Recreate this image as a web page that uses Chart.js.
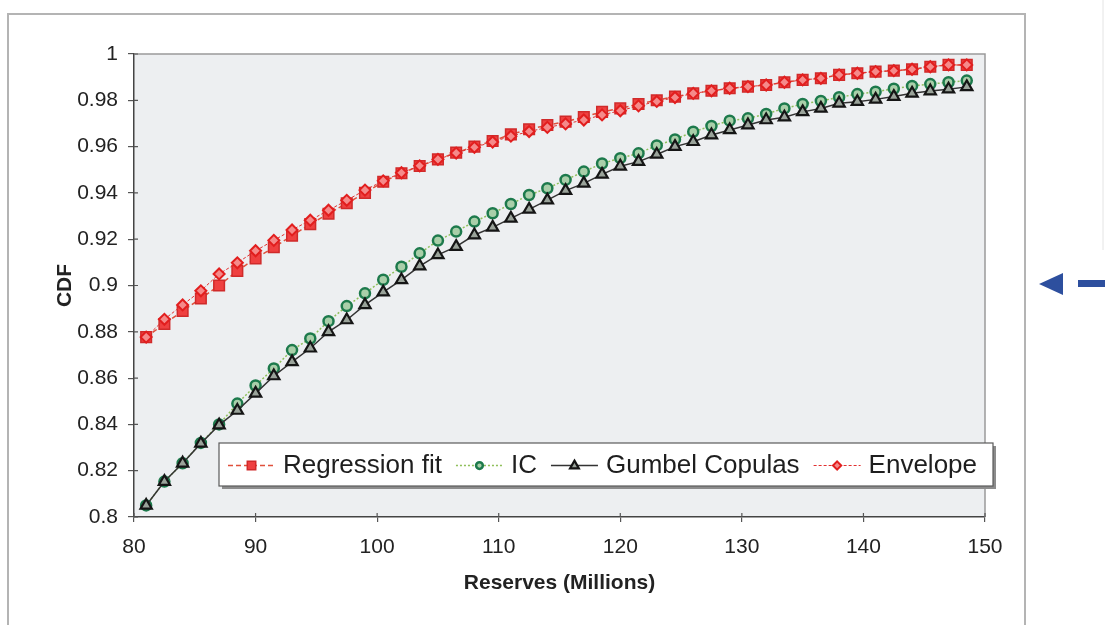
<!DOCTYPE html>
<html>
<head>
<meta charset="utf-8">
<script src="https://cdn.jsdelivr.net/npm/chart.js@4.4.1/dist/chart.umd.min.js"></script>
<style>
  html, body { margin: 0; padding: 0; background: #fff; }
  #wrap { position: relative; width: 1105px; height: 625px; }
</style>
</head>
<body>
<div id="wrap"><canvas id="cdf-chart" width="1105" height="625"></canvas></div>
<script>
// reserves (millions) at which each CDF was evaluated
const reserves = [81, 82.5, 84, 85.5, 87, 88.5, 90, 91.5, 93, 94.5, 96, 97.5, 99, 100.5, 102, 103.5,
  105, 106.5, 108, 109.5, 111, 112.5, 114, 115.5, 117, 118.5, 120, 121.5, 123, 124.5, 126, 127.5,
  129, 130.5, 132, 133.5, 135, 136.5, 138, 139.5, 141, 142.5, 144, 145.5, 147, 148.5];

const regressionFit = [0.8777, 0.8834, 0.889, 0.8944, 0.900, 0.9063, 0.9117, 0.9165, 0.9215, 0.9265,
  0.931, 0.9355, 0.940, 0.9448, 0.9485, 0.9516, 0.9545, 0.9574, 0.960, 0.9624, 0.9653, 0.9675,
  0.9693, 0.9708, 0.9728, 0.975, 0.9765, 0.9784, 0.980, 0.9816, 0.983, 0.9841, 0.9852, 0.9859,
  0.9866, 0.9878, 0.9888, 0.9895, 0.991, 0.9917, 0.9924, 0.9928, 0.9934, 0.9945, 0.9953, 0.9953];

const icValues = [0.805, 0.8153, 0.8232, 0.832, 0.840, 0.849, 0.8568, 0.8642, 0.8721, 0.8771,
  0.8846, 0.8911, 0.8966, 0.9025, 0.9081, 0.9139, 0.9194, 0.9233, 0.9276, 0.9312, 0.9352, 0.9391,
  0.942, 0.9456, 0.9492, 0.9527, 0.955, 0.9571, 0.9605, 0.9631, 0.9664, 0.9689, 0.9712, 0.9722,
  0.9741, 0.9765, 0.9784, 0.9797, 0.9813, 0.9827, 0.9837, 0.985, 0.9862, 0.987, 0.9878, 0.9885];

const gumbelValues = [0.805, 0.8153, 0.8232, 0.8318, 0.8397, 0.846, 0.8534, 0.8609, 0.867, 0.8729,
  0.880, 0.8851, 0.8916, 0.8971, 0.9024, 0.9084, 0.9132, 0.9168, 0.9218, 0.9251, 0.929, 0.9329,
  0.9369, 0.941, 0.9441, 0.948, 0.9515, 0.9535, 0.9566, 0.960, 0.9621, 0.965, 0.9672, 0.9693,
  0.9715, 0.9727, 0.975, 0.9765, 0.9787, 0.9794, 0.9804, 0.9816, 0.983, 0.984, 0.9848, 0.9858];

const envelopeValues = [0.8777, 0.8854, 0.8916, 0.8977, 0.905, 0.9098, 0.915, 0.9195, 0.924, 0.9282,
  0.9325, 0.9368, 0.9412, 0.9452, 0.9487, 0.9517, 0.9545, 0.9572, 0.9597, 0.962, 0.9645, 0.9665,
  0.9683, 0.9698, 0.9715, 0.9737, 0.9755, 0.9776, 0.9795, 0.9812, 0.983, 0.9841, 0.9852, 0.9859,
  0.9866, 0.9878, 0.9888, 0.9895, 0.991, 0.9917, 0.9924, 0.9928, 0.9934, 0.9945, 0.9953, 0.9953];

const seriesNames = ['Regression fit', 'IC', 'Gumbel Copulas', 'Envelope'];

const FONT = "'Liberation Sans', Arial, sans-serif";

function toPoints(values) {
  return reserves.map((r, i) => ({ x: r, y: values[i] }));
}

// draws one legend marker in the same style as the series (a bit smaller)
function drawMarker(ctx, ds, x, y) {
  ctx.save();
  ctx.fillStyle = ds.pointBackgroundColor;
  ctx.strokeStyle = ds.pointBorderColor;
  ctx.lineWidth = ds.pointBorderWidth;
  ctx.setLineDash([]);
  const r = ds.pointRadius * 0.75;
  ctx.beginPath();
  if (ds.pointStyle === 'rect') {
    ctx.rect(x - r * 0.75, y - r * 0.75, r * 1.5, r * 1.5);
  } else if (ds.pointStyle === 'circle') {
    ctx.arc(x, y, r * 0.9, 0, Math.PI * 2);
  } else if (ds.pointStyle === 'triangle') {
    ctx.moveTo(x, y - r);
    ctx.lineTo(x + r * 0.9, y + r * 0.6);
    ctx.lineTo(x - r * 0.9, y + r * 0.6);
    ctx.closePath();
  } else {
    ctx.moveTo(x, y - r);
    ctx.lineTo(x + r, y);
    ctx.lineTo(x, y + r);
    ctx.lineTo(x - r, y);
    ctx.closePath();
  }
  ctx.fill();
  ctx.stroke();
  ctx.restore();
}

const plotBackground = {
  id: 'plotBackground',
  beforeDraw(chart) {
    const { ctx, chartArea: a } = chart;
    ctx.save();
    ctx.fillStyle = '#edeff1';
    ctx.fillRect(a.left, a.top, a.right - a.left, a.bottom - a.top);
    ctx.restore();
  }
};

const extras = {
  id: 'extras',
  afterDraw(chart) {
    const { ctx, chartArea: a } = chart;
    ctx.save();

    // top and right border of the plot
    ctx.strokeStyle = '#9a9a9a';
    ctx.lineWidth = 1.5;
    ctx.beginPath();
    ctx.moveTo(a.left, a.top);
    ctx.lineTo(a.right, a.top);
    ctx.lineTo(a.right, a.bottom);
    ctx.stroke();

    // inner half of the tick marks (they cross the axes)
    ctx.strokeStyle = '#555';
    ctx.lineWidth = 1.2;
    const xs = chart.scales.x, ys = chart.scales.y;
    ctx.beginPath();
    xs.ticks.forEach((t) => {
      const px = xs.getPixelForValue(t.value);
      ctx.moveTo(px, a.bottom);
      ctx.lineTo(px, a.bottom - 4);
    });
    ys.ticks.forEach((t) => {
      const py = ys.getPixelForValue(t.value);
      ctx.moveTo(a.left, py);
      ctx.lineTo(a.left + 4, py);
    });
    ctx.stroke();

    // outer frame of the page scan
    ctx.strokeStyle = '#b4b4b4';
    ctx.lineWidth = 2;
    ctx.beginPath();
    ctx.moveTo(8, 625);
    ctx.lineTo(8, 14);
    ctx.lineTo(1025, 14);
    ctx.lineTo(1025, 625);
    ctx.stroke();
    ctx.strokeStyle = '#e4e4e4';
    ctx.lineWidth = 1;
    ctx.beginPath();
    ctx.moveTo(1103, 0);
    ctx.lineTo(1103, 250);
    ctx.stroke();

    // blue arrow at the right margin
    ctx.fillStyle = '#2d4f9e';
    ctx.beginPath();
    ctx.moveTo(1039, 284);
    ctx.lineTo(1063, 273);
    ctx.lineTo(1063, 295);
    ctx.closePath();
    ctx.fill();
    ctx.fillRect(1078, 280, 27, 7);

    // legend box
    const bx = 219, by = 443, bw = 774, bh = 43;
    ctx.fillStyle = '#8c8c8c';
    ctx.fillRect(bx + 3, by + 3, bw, bh);
    ctx.fillStyle = '#ffffff';
    ctx.fillRect(bx, by, bw, bh);
    ctx.strokeStyle = '#5a5a5a';
    ctx.lineWidth = 1.2;
    ctx.strokeRect(bx, by, bw, bh);

    ctx.font = '26px ' + FONT;
    ctx.textBaseline = 'middle';
    ctx.fillStyle = '#1e1e1e';
    const cy = by + bh / 2 + 1;
    let x = bx + 9;
    chart.data.datasets.forEach((ds) => {
      ctx.save();
      ctx.strokeStyle = ds.borderColor;
      ctx.lineWidth = ds.borderWidth;
      ctx.setLineDash(ds.borderDash || []);
      ctx.beginPath();
      ctx.moveTo(x, cy);
      ctx.lineTo(x + 47, cy);
      ctx.stroke();
      ctx.restore();
      drawMarker(ctx, ds, x + 23.5, cy);
      x += 47 + 8;
      ctx.fillStyle = '#1e1e1e';
      ctx.fillText(ds.label, x, cy);
      x += ctx.measureText(ds.label).width + 14;
    });

    ctx.restore();
  }
};

const ctx = document.getElementById('cdf-chart').getContext('2d');
new Chart(ctx, {
  type: 'line',
  data: {
    datasets: [
      {
        label: seriesNames[0],
        data: toPoints(regressionFit),
        borderColor: '#e0503c',
        borderWidth: 1.5,
        borderDash: [5, 3],
        pointStyle: 'rect',
        pointRadius: 7.5,
        pointBackgroundColor: '#ef4040',
        pointBorderColor: '#d02a2a',
        pointBorderWidth: 1.5,
        order: 3,
      },
      {
        label: seriesNames[1],
        data: toPoints(icValues),
        borderColor: '#8fbf5a',
        borderWidth: 1.5,
        borderDash: [2, 2],
        pointStyle: 'circle',
        pointRadius: 5,
        pointBackgroundColor: '#a9cfa9',
        pointBorderColor: '#1d7a4c',
        pointBorderWidth: 2.5,
        order: 2,
      },
      {
        label: seriesNames[2],
        data: toPoints(gumbelValues),
        borderColor: '#333333',
        borderWidth: 1.5,
        pointStyle: 'triangle',
        pointRadius: 6.5,
        pointBackgroundColor: '#9aa39a',
        pointBorderColor: '#151515',
        pointBorderWidth: 2.2,
        order: 1,
      },
      {
        label: seriesNames[3],
        data: toPoints(envelopeValues),
        borderColor: '#e23030',
        borderWidth: 1,
        borderDash: [3, 2],
        pointStyle: 'rectRot',
        pointRadius: 5.5,
        pointBackgroundColor: '#f58a8a',
        pointBorderColor: '#e21e1e',
        pointBorderWidth: 2,
        order: 0,
      },
    ],
  },
  options: {
    responsive: false,
    animation: false,
    layout: { padding: { left: 0, top: 54, right: 120, bottom: 0 } },
    plugins: {
      legend: { display: false },
      tooltip: { enabled: false },
    },
    elements: { line: { tension: 0 } },
    scales: {
      x: {
        type: 'linear',
        min: 80,
        max: 150,
        afterFit: (scale) => { scale.height = 108; },
        ticks: { stepSize: 10, color: '#222', font: { family: FONT, size: 21 }, padding: 13 },
        grid: { drawOnChartArea: false, tickLength: 5, color: '#555', lineWidth: 1.2 },
        border: { color: '#444', width: 1.5 },
        title: {
          display: true,
          text: 'Reserves (Millions)',
          color: '#222',
          font: { family: FONT, size: 21, weight: 'bold' },
          padding: { top: 0, bottom: 29 },
        },
      },
      y: {
        min: 0.8,
        max: 1,
        afterFit: (scale) => { scale.width = 134; },
        ticks: {
          stepSize: 0.02,
          color: '#222',
          font: { family: FONT, size: 21 },
          padding: 10,
          callback: (v) => String(Number(v.toFixed(2))),
        },
        grid: { drawOnChartArea: false, tickLength: 6, color: '#555', lineWidth: 1.2 },
        border: { color: '#444', width: 1.5 },
        title: {
          display: true,
          text: 'CDF',
          color: '#222',
          font: { family: FONT, size: 21, weight: 'bold' },
          padding: { top: 53, bottom: 0 },
        },
      },
    },
  },
  plugins: [plotBackground, extras],
});
</script>
</body>
</html>
